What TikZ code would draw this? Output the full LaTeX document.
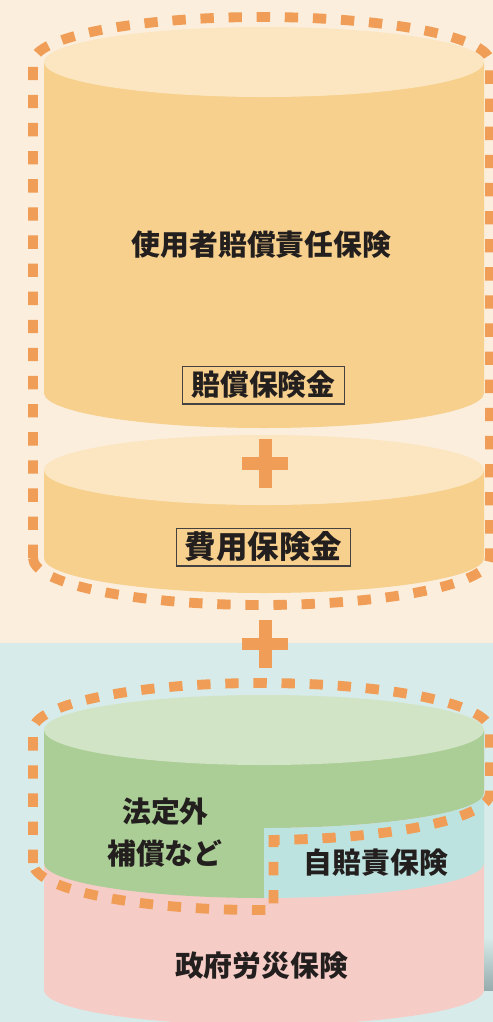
\documentclass[tikz,border=0pt]{standalone}
\usepackage{fontspec}
\newfontfamily\jpfont{Noto Sans CJK JP}
\definecolor{topback}{RGB}{251,238,220}
\definecolor{bottomback}{RGB}{215,236,234}
\definecolor{lidcolor}{RGB}{252,230,194}
\definecolor{bodycolor}{RGB}{247,208,141}
\definecolor{dashcolor}{RGB}{240,158,87}
\definecolor{greenlid}{RGB}{210,228,198}
\definecolor{greenbody}{RGB}{171,205,150}
\definecolor{cyanbody}{RGB}{189,227,224}
\definecolor{pinkbody}{RGB}{246,204,199}
\definecolor{shadowgray}{RGB}{150,172,173}
\definecolor{textcolor}{RGB}{35,31,30}

\begin{document}
\begin{tikzpicture}[x=0.02cm,y=-0.02cm,
  groupline/.style={draw=dashcolor,line width=5.6pt,dash pattern=on 7.6pt off 8.4pt},
  jplabel/.style={font=\jpfont\bfseries\fontsize{16.4}{19}\selectfont,text=textcolor,inner sep=0pt},
  labelbox/.style={jplabel,draw=textcolor!85,line width=0.7pt,minimum height=21.5pt},
  plusbar/.style={fill=dashcolor}]
  \useasboundingbox (0,0) rectangle (493,1022);
  % Background
  \fill[topback] (0,0) rectangle (493,643);
  \fill[bottomback] (0,643) rectangle (493,1022);
  % Employer liability cylinder
  \fill[bodycolor] (44,62) -- (44,393) arc[start angle=180,end angle=0,x radius=220,y radius=35] -- (484,62) -- cycle;
  \fill[lidcolor] (264,62) ellipse[x radius=220,y radius=35];
  % Expenses cylinder
  \fill[bodycolor] (44,470) -- (44,558) arc[start angle=180,end angle=0,x radius=220,y radius=35] -- (484,470) -- cycle;
  \fill[lidcolor] (264,470) ellipse[x radius=220,y radius=35];
  % Plus signs
  \fill[plusbar] (242,457) rectangle (288,470);
  \fill[plusbar] (258.5,439) rectangle (271.5,488);
  \fill[plusbar] (242,638) rectangle (288,650);
  \fill[plusbar] (258.5,620) rectangle (271.5,668);
  % Dashed group (top)
  \draw[groupline] (33,558) -- (33,62) arc[start angle=180,end angle=360,x radius=228.5,y radius=45]
    -- (490,558) arc[start angle=0,end angle=180,x radius=228.5,y radius=47] -- cycle;
  % Labels (top)
  \node[jplabel] at(261.5,245)(employer){使用者賠償責任保険};
  \node[labelbox,minimum width=92.4pt] at(263.5,385)(damages){賠償保険金};
  \node[labelbox,minimum width=99.2pt,font=\jpfont\bfseries\fontsize{17.9}{20}\selectfont] at(263.5,547)(expenses){費用保険金};
  % Public insurance cylinder
  \fill[pinkbody] (44,730) -- (44,990) arc[start angle=180,end angle=0,x radius=220,y radius=35] -- (484,730) -- cycle;
  \shade[top color=bottomback,bottom color=shadowgray] (484,937) rectangle (493,990);
  \fill[greenbody] (44,730) -- (44,863) arc[start angle=180,end angle=90,x radius=220,y radius=35]
    -- (264,828) arc[start angle=90,end angle=0,x radius=220,y radius=35] -- (484,730) -- cycle;
  \fill[cyanbody] (264,828) arc[start angle=90,end angle=0,x radius=220,y radius=35]
    -- (484,863) arc[start angle=0,end angle=90,x radius=220,y radius=35] -- cycle;
  \fill[greenlid] (264,730) ellipse[x radius=220,y radius=35];
  % Dashed group (bottom)
  \draw[groupline] (33,863) -- (33,730) arc[start angle=180,end angle=360,x radius=228.5,y radius=47]
    -- (490,793) arc[start angle=0,end angle=87,x radius=228.5,y radius=47]
    -- (273.5,910) arc[start angle=87,end angle=180,x radius=228.5,y radius=47] -- cycle;
  % Labels (bottom)
  \node[jplabel] at(165.5,812)(extra){法定外};
  \node[jplabel] at(165,854)(extrab){補償など};
  \node[jplabel] at(376,863)(jibai){自賠責保険};
  \node[jplabel] at(261.5,966)(rousai){政府労災保険};
\end{tikzpicture}
\end{document}
